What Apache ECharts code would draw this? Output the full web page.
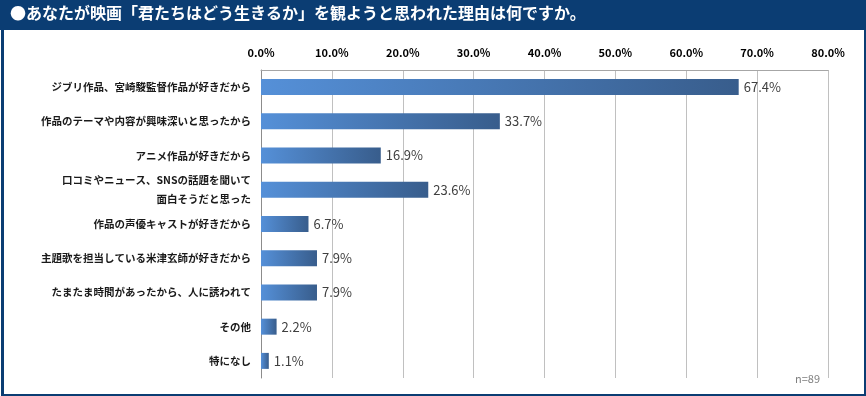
<!DOCTYPE html>
<html>
<head>
<meta charset="utf-8">
<script src="https://cdn.jsdelivr.net/npm/echarts@6/dist/echarts.min.js"></script>
<style>
  html, body { margin: 0; padding: 0; background: #fff; }
  #chart { width: 866px; height: 396px; }
</style>
</head>
<body>
<div id="chart"></div>
<script>
const categories = [
    'ジブリ作品、宮崎駿監督作品が好きだから',
    '作品のテーマや内容が興味深いと思ったから',
    'アニメ作品が好きだから',
    '口コミやニュース、SNSの話題を聞いて\n面白そうだと思った',
    '作品の声優キャストが好きだから',
    '主題歌を担当している米津玄師が好きだから',
    'たまたま時間があったから、人に誘われて',
    'その他',
    '特になし'
];
const values = [67.4, 33.7, 16.9, 23.6, 6.7, 7.9, 7.9, 2.2, 1.1];
const titleText = '●あなたが映画「君たちはどう生きるか」を観ようと思われた理由は何ですか。';
const noteText = 'n=89';

const font = '"Noto Sans CJK JP", "Noto Sans", sans-serif';
const navy = '#0b3d73';

const chart = echarts.init(document.getElementById('chart'));

const option = {
    animation: false,
    textStyle: { fontFamily: font },
    grid: { left: 261, right: 38, top: 70, bottom: 18, containLabel: false },
    xAxis: {
        type: 'value',
        position: 'top',
        min: 0,
        max: 80,
        interval: 10,
        axisLine: { show: true, lineStyle: { color: '#a6a6a6' } },
        axisTick: { show: false },
        axisLabel: {
            formatter: v => v.toFixed(1) + '%',
            color: '#000',
            fontWeight: 'bold',
            fontSize: 11,
            margin: 12
        },
        splitLine: { show: true, lineStyle: { color: '#c0c0c0' } }
    },
    yAxis: {
        type: 'category',
        data: categories,
        inverse: true,
        axisLine: { show: true, lineStyle: { color: '#8c8c8c' } },
        axisTick: { show: false },
        axisLabel: {
            color: '#1a1a1a',
            fontWeight: 'bold',
            fontSize: 10.5,
            margin: 10,
            lineHeight: 19
        }
    },
    series: [{
        type: 'bar',
        data: values,
        barWidth: 16,
        itemStyle: {
            color: new echarts.graphic.LinearGradient(0, 0, 1, 0, [
                { offset: 0, color: '#5590d8' },
                { offset: 1, color: '#385d8c' }
            ])
        },
        label: {
            show: true,
            position: 'right',
            distance: 5,
            formatter: p => p.value.toFixed(1) + '%',
            color: '#404040',
            fontSize: 13
        }
    }],
    graphic: [
        {
            type: 'rect',
            left: 0, top: 0,
            shape: { width: 866, height: 30 },
            style: { fill: navy }
        },
        {
            type: 'text',
            left: 10, top: 5,
            style: {
                text: titleText,
                fill: '#fff',
                font: 'bold 16px ' + font
            }
        },
        {
            type: 'rect',
            left: 0, top: 0,
            shape: { x: 1.5, y: 1.5, width: 863, height: 393 },
            style: { fill: 'none', stroke: navy, lineWidth: 3 }
        },
        {
            type: 'text',
            left: 795, top: 373,
            style: {
                text: noteText,
                fill: '#7f7f7f',
                font: '11px ' + font
            }
        }
    ]
};

chart.setOption(option);
</script>
</body>
</html>
